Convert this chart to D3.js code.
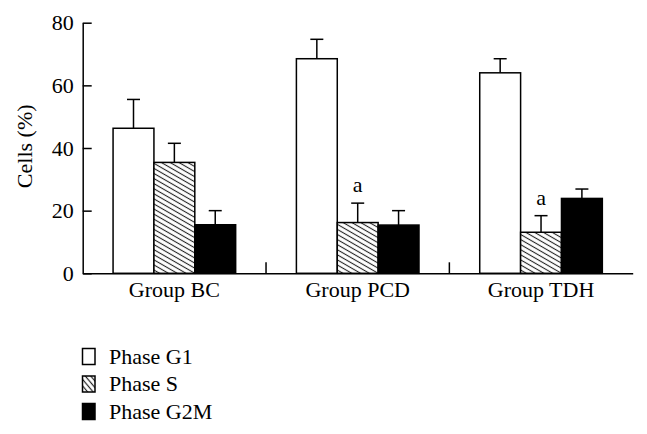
<!DOCTYPE html>
<html>
<head>
<meta charset="utf-8">
<script src="https://cdn.jsdelivr.net/npm/d3@7"></script>
<style>
  html, body { margin: 0; padding: 0; background: #fff; }
  svg { display: block; }
  text { font-family: "Liberation Serif", "Times New Roman", serif; fill: #000; }
</style>
</head>
<body>
<svg id="chart" width="647" height="434"></svg>
<script>
const groups = ["Group BC", "Group PCD", "Group TDH"];
const phases = ["Phase G1", "Phase S", "Phase G2M"];
const g1Values = [46.3, 68.5, 64.0];
const g1Errors = [9.2, 6.2, 4.5];
const sValues = [35.4, 16.2, 13.1];
const sErrors = [6.1, 6.2, 5.3];
const g2mValues = [15.5, 15.4, 23.9];
const g2mErrors = [4.5, 4.6, 3.0];
const sMarks = ["", "a", "a"];
const yTicks = [0, 20, 40, 60, 80];

const FS = 22;
const svg = d3.select("#chart");
const defs = svg.append("defs");

// hatch patterns
const hatch = defs.append("pattern")
  .attr("id", "hatch").attr("patternUnits", "userSpaceOnUse")
  .attr("width", 10).attr("height", 4.4)
  .attr("patternTransform", "rotate(30)");
hatch.append("rect").attr("width", 10).attr("height", 4.4).attr("fill", "#fff");
hatch.append("line").attr("x1", -1).attr("x2", 11).attr("y1", 2.2).attr("y2", 2.2)
  .attr("stroke", "#222").attr("stroke-width", 1.1);

const hatchL = defs.append("pattern")
  .attr("id", "hatchL").attr("patternUnits", "userSpaceOnUse")
  .attr("width", 10).attr("height", 4.2)
  .attr("patternTransform", "rotate(50)");
hatchL.append("rect").attr("width", 10).attr("height", 4.2).attr("fill", "#fff");
hatchL.append("line").attr("x1", -1).attr("x2", 11).attr("y1", 2.1).attr("y2", 2.1)
  .attr("stroke", "#222").attr("stroke-width", 1.2);

const fills = { "Phase G1": "#fff", "Phase S": "url(#hatch)", "Phase G2M": "#000" };
const legendFills = { "Phase G1": "#fff", "Phase S": "url(#hatchL)", "Phase G2M": "#000" };

const y = d3.scaleLinear().domain([0, 80]).range([273.3, 22.7]);
const x0 = d3.scaleBand().domain(groups).range([82.7, 632.7]);
const innerW = 122.6;
const x1 = d3.scaleBand().domain(phases).range([0, innerW]);
const off = (x0.bandwidth() - innerW) / 2;

const rows = groups.map((g, i) => ({
  group: g,
  items: [
    { phase: "Phase G1", v: g1Values[i], e: g1Errors[i], mark: "" },
    { phase: "Phase S", v: sValues[i], e: sErrors[i], mark: sMarks[i] },
    { phase: "Phase G2M", v: g2mValues[i], e: g2mErrors[i], mark: "" }
  ]
}));

const gGroups = svg.append("g").selectAll("g").data(rows).join("g")
  .attr("transform", d => `translate(${x0(d.group) + off},0)`);

// error bars (behind bars)
gGroups.selectAll("g.err").data(d => d.items).join("g").attr("class", "err")
  .each(function(d) {
    const cx = x1(d.phase) + x1.bandwidth() / 2;
    const g = d3.select(this);
    g.append("line").attr("x1", cx).attr("x2", cx)
      .attr("y1", y(d.v)).attr("y2", y(d.v + d.e))
      .attr("stroke", "#000").attr("stroke-width", 1.5);
    g.append("line").attr("x1", cx - 6.5).attr("x2", cx + 6.5)
      .attr("y1", y(d.v + d.e)).attr("y2", y(d.v + d.e))
      .attr("stroke", "#000").attr("stroke-width", 1.5);
    if (d.mark) {
      g.append("text").attr("x", cx).attr("y", y(d.v + d.e) - 11)
        .attr("text-anchor", "middle").attr("font-size", FS).text(d.mark);
    }
  });

gGroups.selectAll("rect.bar").data(d => d.items).join("rect").attr("class", "bar")
  .attr("x", d => x1(d.phase))
  .attr("y", d => y(d.v))
  .attr("width", x1.bandwidth())
  .attr("height", d => y(0) - y(d.v))
  .attr("fill", d => fills[d.phase])
  .attr("stroke", "#000").attr("stroke-width", 1.5);

// y axis
const yAxis = svg.append("g").attr("transform", `translate(${x0.range()[0]},0)`)
  .call(d3.axisLeft(y).tickValues(yTicks).tickSizeInner(-9).tickSizeOuter(0).tickPadding(9));
yAxis.select(".domain").attr("stroke-width", 1.5);
yAxis.selectAll(".tick line").attr("stroke-width", 1.5);
yAxis.selectAll("text").attr("font-size", FS).attr("font-family", "Liberation Serif, serif");

// x axis
const xAxis = svg.append("g").attr("transform", `translate(0,${y(0)})`)
  .call(d3.axisBottom(x0).tickSize(0).tickPadding(8));
xAxis.select(".domain").attr("stroke-width", 1.5);
xAxis.selectAll("text").attr("font-size", FS).attr("font-family", "Liberation Serif, serif")
  .attr("dy", "0.71em");

// group separators
svg.append("g").selectAll("line").data(groups.slice(1)).join("line")
  .attr("x1", d => x0(d)).attr("x2", d => x0(d))
  .attr("y1", y(0)).attr("y2", y(0) - 11)
  .attr("stroke", "#000").attr("stroke-width", 1.5);

// y label
svg.append("text")
  .attr("transform", "translate(32,146.3) rotate(-90)")
  .attr("text-anchor", "middle").attr("font-size", FS)
  .text("Cells (%)");

// legend
const leg = svg.append("g").selectAll("g").data(phases).join("g")
  .attr("transform", (d, i) => `translate(82.5,${348.5 + i * 27.5})`);
leg.append("rect").attr("width", 12.5).attr("height", 16)
  .attr("fill", d => legendFills[d]).attr("stroke", "#000").attr("stroke-width", 1.5);
leg.append("text").attr("x", 26.5).attr("y", 15).attr("font-size", FS).text(d => d);
</script>
</body>
</html>
